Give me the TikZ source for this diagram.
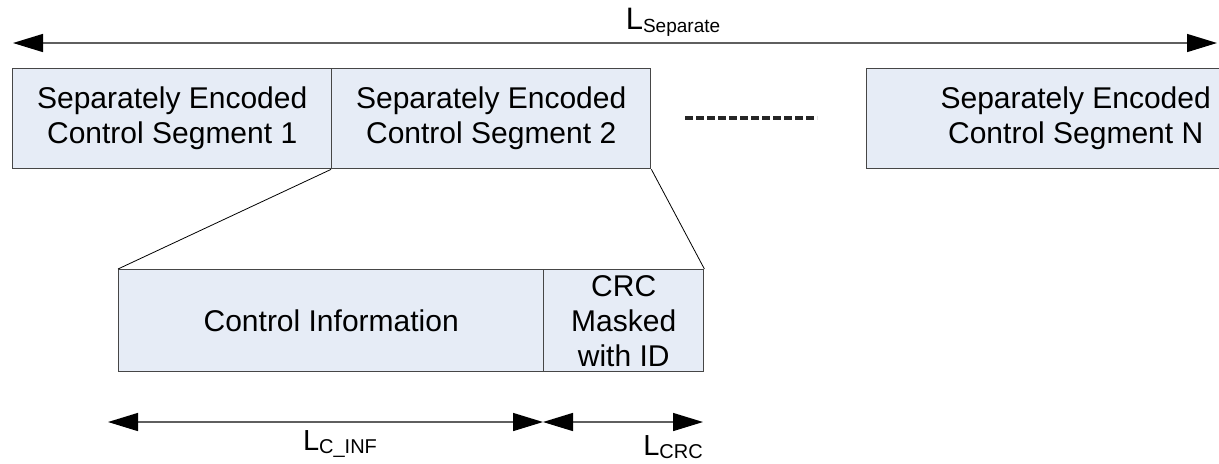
\documentclass[tikz,border=0pt]{standalone}
\usepackage{fontspec}
\setmainfont{Liberation Sans}
\usetikzlibrary{arrows.meta}
\definecolor{boxfill}{RGB}{230,236,246}
\definecolor{boxline}{RGB}{70,70,70}
\definecolor{dimline}{RGB}{95,95,95}
\tikzset{
  segbox/.style={draw=boxline, fill=boxfill, line width=0.7pt, inner sep=0pt,
    align=center, font=\fontsize{15}{17.5}\selectfont},
  dimarrow/.style={draw=dimline, line width=0.7pt,
    {Triangle[length=15pt,width=9pt,black]}-{Triangle[length=15pt,width=9pt,black]}},
  zoomline/.style={draw=black, line width=0.4pt},
  dimlabel/.style={inner sep=0pt},
}
\begin{document}
\begin{tikzpicture}[x=0.5pt,y=-0.5pt]
\useasboundingbox (0,0) rectangle (1219,463);
% top dimension arrow
\coordinate (sepL) at (13,43);
\coordinate (sepR) at (1217,43);
\draw[dimarrow] (sepL) -- (sepR);
\node[dimlabel] (lsep) at (673,22) {\fontsize{15.5}{15.5}\selectfont L\raisebox{-1.5pt}{\fontsize{9.5}{9.5}\selectfont Separate}};
% top segments
\node[segbox, minimum width=159.5pt, minimum height=50pt, anchor=north west] (seg1) at (12,68) {Separately Encoded\\Control Segment 1};
\node[segbox, minimum width=159.5pt, minimum height=50pt, anchor=north west] (seg2) at (331,68) {Separately Encoded\\Control Segment 2};
\node[segbox, minimum width=209pt, minimum height=50pt, anchor=north west] (segN) at (866,68) {Separately Encoded\\Control Segment N};
% dots
\coordinate (dotsL) at (685,118);
\coordinate (dotsR) at (817,118);
\draw[line width=2pt, dash pattern=on 4pt off 1.5pt, color=black!85] (dotsL) -- (dotsR);
% lower boxes
\node[segbox, minimum width=212.5pt, minimum height=51pt, anchor=north west] (info) at (118,269) {Control Information};
\node[segbox, minimum width=80pt, minimum height=51pt, anchor=north west] (crc) at (543,269) {CRC\\Masked\\with ID};
% zoom lines
\draw[zoomline] (seg2.south west) -- (info.north west);
\draw[zoomline] (seg2.south east) -- (crc.north east);
% lower dimension arrows
\coordinate (a1) at (108,422);
\coordinate (a2) at (543,422);
\coordinate (a3) at (703,422);
\draw[dimarrow] (a1) -- (a2);
\draw[dimarrow] (a2) -- (a3);
\node[dimlabel] (lcinf) at (340,444) {\fontsize{14.5}{14.5}\selectfont L\raisebox{-1.5pt}{\fontsize{10}{10}\selectfont C\_INF}};
\node[dimlabel] (lcrc) at (673,447) {\fontsize{14.5}{14.5}\selectfont L\raisebox{-1.5pt}{\fontsize{10}{10}\selectfont CRC}};
\end{tikzpicture}
\end{document}
